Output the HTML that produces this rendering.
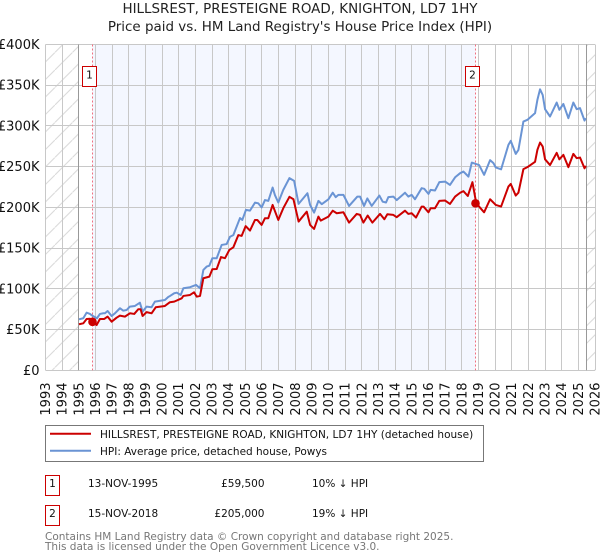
<!DOCTYPE html>
<html lang="en">
<head>
<meta charset="utf-8">
<title>HILLSREST, PRESTEIGNE ROAD, KNIGHTON, LD7 1HY</title>
<style>
html,body{margin:0;padding:0;background:#fff;}
svg{display:block;font-family:"DejaVu Sans",sans-serif;}
</style>
</head>
<body>
<svg id="chart" xmlns="http://www.w3.org/2000/svg" width="600" height="560" viewBox="0 0 600 560">
  <defs>
    <pattern id="hatch" patternUnits="userSpaceOnUse" width="17.5" height="17.5" patternTransform="translate(2.4,0)">
      <path d="M-1 18.5 L18.5 -1" stroke="#d8d8d8" stroke-width="1" fill="none"/>
    </pattern>
  </defs>
  <text x="300" y="13" font-size="13.45" text-anchor="middle" fill="#222">HILLSREST, PRESTEIGNE ROAD, KNIGHTON, LD7 1HY</text>
  <text x="300" y="31" font-size="13.45" text-anchor="middle" fill="#222">Price paid vs. HM Land Registry's House Price Index (HPI)</text>
  <g id="plot"></g>

  <g>
    <rect x="45.5" y="425.5" width="438" height="36" fill="#fff" stroke="#777" stroke-width="1"/>
    <line x1="50" x2="91" y1="433.7" y2="433.7" stroke="#cc0000" stroke-width="2"/>
    <text x="100" y="438" font-size="10.5" fill="#111">HILLSREST, PRESTEIGNE ROAD, KNIGHTON, LD7 1HY (detached house)</text>
    <line x1="50" x2="91" y1="450.7" y2="450.7" stroke="#6a94d4" stroke-width="2"/>
    <text x="100" y="455" font-size="10.5" fill="#111">HPI: Average price, detached house, Powys</text>
  </g>

  <g font-size="10.5" fill="#111">
    <rect x="45.5" y="475.5" width="14" height="20" fill="#fff" stroke="#cc0000" stroke-width="1"/>
    <text x="52.5" y="487" text-anchor="middle">1</text>
    <text x="88" y="487">13-NOV-1995</text>
    <text x="264.5" y="487" text-anchor="end">£59,500</text>
    <text x="312" y="487">10% ↓ HPI</text>
    <rect x="45.5" y="505.5" width="14" height="20" fill="#fff" stroke="#cc0000" stroke-width="1"/>
    <text x="52.5" y="517" text-anchor="middle">2</text>
    <text x="88" y="517">15-NOV-2018</text>
    <text x="264.5" y="517" text-anchor="end">£205,000</text>
    <text x="312" y="517">19% ↓ HPI</text>
  </g>

  <text x="45" y="540" font-size="10.5" fill="#777">Contains HM Land Registry data © Crown copyright and database right 2025.</text>
  <text x="45" y="550" font-size="10.5" fill="#777">This data is licensed under the Open Government Licence v3.0.</text>
</svg>

<script>
const yearTicks = [1993,1994,1995,1996,1997,1998,1999,2000,2001,2002,2003,2004,2005,2006,2007,2008,2009,2010,2011,2012,2013,2014,2015,2016,2017,2018,2019,2020,2021,2022,2023,2024,2025,2026];
const valueTicks = [0,50,100,150,200,250,300,350,400];
const valueTickLabels = ['£0','£50K','£100K','£150K','£200K','£250K','£300K','£350K','£400K'];
const dataStart = [1995.0];
const dataEnd = [2025.5];
const saleYears = [1995.87,2018.87];
const salePrices = [59.5,205];
const saleLabels = ['1','2'];

const hpiYears = [1995.01,1995.27,1995.47,1995.67,1995.81,1996.09,1996.27,1996.47,1996.57,1996.73,1996.97,1997.17,1997.47,1997.67,1997.87,1998.07,1998.37,1998.67,1998.83,1999.07,1999.37,1999.57,2000.17,2000.37,2000.48,2000.73,2000.88,2001.12,2001.28,2001.68,2002.04,2002.28,2002.48,2002.68,2002.84,2003.02,2003.28,2003.58,2003.88,2004.08,2004.28,2004.68,2004.82,2005.04,2005.28,2005.58,2005.78,2005.98,2006.18,2006.38,2006.64,2006.78,2006.98,2007.28,2007.65,2007.93,2008.2,2008.73,2008.89,2009.13,2009.39,2009.59,2009.99,2010.25,2010.43,2010.59,2010.89,2011.23,2011.73,2011.89,2012.13,2012.33,2012.59,2013.05,2013.25,2013.45,2013.59,2013.89,2014.09,2014.59,2014.79,2014.99,2015.19,2015.59,2015.75,2016.0,2016.13,2016.39,2016.65,2017.0,2017.29,2017.6,2017.9,2018.1,2018.4,2018.6,2018.84,2019.04,2019.34,2019.7,2019.9,2020.04,2020.36,2020.8,2020.94,2021.24,2021.4,2021.7,2021.94,2022.4,2022.54,2022.7,2022.86,2023.0,2023.3,2023.7,2023.86,2024.1,2024.4,2024.7,2024.9,2025.1,2025.37,2025.45];
const hpiValues = [62.6,63.9,70.8,69.2,67.1,63.9,69.2,70,70,72.8,66.7,70,76.2,73.2,74,78.2,79,83,72,78.2,77.4,84.3,86.3,90,91.3,94.6,95.3,92.5,100.7,102,104.8,100.7,123.2,127.3,128.5,137.6,137.6,153.9,155,164,166,186.9,184.6,197,196,205.9,205,200,209,208,224.4,215,206,221.5,236,232.6,204.3,217.4,203,193.6,208,204,210,218,212.6,215.4,215.4,201.8,213.3,213.3,201.8,211,201.8,214.5,207,206,212.6,213.3,209,218,213.3,215.4,210,223.6,222.8,216.6,221.5,220.7,231,231.7,227.6,237,242,244,237.8,255,253.4,252,240,258,254.4,249,246.7,276.8,281.7,265.7,270.6,305.4,307.5,315.7,332,345,338,320.6,311.6,328.7,319.8,327,309.5,328.7,320.6,321.9,306.6,309.5];

const paidYears = [1995.01,1995.27,1995.47,1995.67,1995.87,1996.07,1996.27,1996.53,1996.73,1996.97,1997.27,1997.47,1997.77,1998.07,1998.33,1998.57,1998.71,1998.83,1999.07,1999.37,1999.62,2000.17,2000.47,2000.73,2001.18,2001.28,2001.68,2001.92,2002.08,2002.28,2002.48,2002.84,2003.02,2003.28,2003.54,2003.78,2004.04,2004.28,2004.58,2004.78,2005.02,2005.28,2005.58,2005.72,2005.98,2006.18,2006.38,2006.64,2006.98,2007.28,2007.65,2007.89,2008.2,2008.69,2008.89,2009.13,2009.39,2009.53,2009.99,2010.25,2010.49,2010.89,2011.23,2011.69,2011.89,2012.09,2012.35,2012.63,2013.09,2013.35,2013.53,2013.89,2014.09,2014.59,2014.79,2014.99,2015.25,2015.59,2015.7,2016.0,2016.13,2016.39,2016.65,2017.0,2017.29,2017.6,2017.9,2018.1,2018.36,2018.64,2018.87,2019.34,2019.7,2020.04,2020.36,2020.8,2020.94,2021.24,2021.4,2021.7,2021.94,2022.4,2022.54,2022.7,2022.86,2023.0,2023.3,2023.7,2023.86,2024.1,2024.4,2024.7,2024.9,2025.1,2025.37,2025.45];
const paidValues = [56.5,57.7,63,63.3,59.5,55.6,63,63,65.9,59.7,64.6,67.1,65.9,70,69.2,75,75,66.7,71.4,70,77.4,79,83.6,84.3,88.4,91.3,92.5,95.8,90.5,91.3,113,115,124,124.4,139,137.6,147.8,151,166,165,177,171.5,184.6,184.6,178.5,186.7,186.7,203,184.6,199,213,210,182.6,194.8,178.5,173.6,188.7,183.8,188.7,196,192.8,194,181.3,192,190.8,181.3,190,181.3,192,185.5,191.6,190.8,188,196,192,192.8,187.5,201,201,194,199,199,208,208.4,204.3,213.3,218,220,214,231,205,194,210,203,201,225.6,228.8,214.5,218,247,249.4,256,270.6,279.6,274.7,259,252,267,259,264.5,249.4,265.7,260.4,261.2,248,251];

const SVG_NS = 'http://www.w3.org/2000/svg';
const plot = document.getElementById('plot');
const left = 45.5, right = 595, top_ = 44.5, bottom = 370.3;

function xScale(year) {
  return left + (year - yearTicks[0]) * (right - left) / (yearTicks[yearTicks.length - 1] - yearTicks[0]);
}
function yScale(value) {
  return bottom - value * (bottom - top_) / valueTicks[valueTicks.length - 1];
}
function snapDown(x) {
  return Math.floor(x) - 0.5;
}
function make(tag, attrs, parent) {
  const el = document.createElementNS(SVG_NS, tag);
  for (const k in attrs) el.setAttribute(k, attrs[k]);
  (parent || plot).appendChild(el);
  return el;
}

// Backgrounds
const preHatch = make('rect', {x: left, y: top_, width: xScale(dataStart[0]) - left, height: bottom - top_, fill: 'url(#hatch)'});


const postHatch = make('rect', {x: xScale(dataEnd[0]), y: top_, width: right - xScale(dataEnd[0]), height: bottom - top_, fill: 'url(#hatch)'});


const ownership = make('rect', {x: snapDown(xScale(saleYears[0])), y: top_, width: snapDown(xScale(saleYears[1])) - snapDown(xScale(saleYears[0])), height: bottom - top_, fill: '#f4f7ff'});



// Grid
yearTicks.forEach(function (yr) {
  const x = Math.round(xScale(yr) - 0.5) + 0.5;
  const gl = make('line', {x1: x, x2: x, y1: top_, y2: bottom, stroke: '#c8c8c8', 'stroke-width': 1});
  
  
  const t = make('text', {transform: 'translate(' + (xScale(yr) + 4.5) + ',382.5) rotate(-90)', 'text-anchor': 'end', 'font-size': 13, fill: '#111'});
  t.textContent = String(yr);
  
  
});
valueTicks.forEach(function (v, i) {
  const y = Math.round(yScale(v) - 0.5) + 0.5;
  const gl = make('line', {x1: left, x2: right, y1: y, y2: y, stroke: '#c8c8c8', 'stroke-width': 1});
  
  
  const t = make('text', {x: 39.5, y: yScale(v) + 4.5, 'text-anchor': 'end', 'font-size': 13, fill: '#111'});
  t.textContent = valueTickLabels[i];
  
  
});

// Data range bounds
[dataStart[0], dataEnd[0]].forEach(function (yr) {
  const bx = Math.round(xScale(yr) - 0.5) + 0.5;
  const b = make('line', {x1: bx, x2: bx, y1: top_, y2: bottom, stroke: '#999', 'stroke-width': 1});
  
  
});

// Sale date lines
saleYears.forEach(function (yr) {
  const sx = snapDown(xScale(yr));
  const d = make('line', {x1: sx, x2: sx, y1: top_, y2: bottom, stroke: '#f07080', 'stroke-width': 1, 'stroke-dasharray': '2 2'});
  
  
});

// Series
function pathFrom(xs, ys) {
  return xs.map(function (x, i) { return xScale(x).toFixed(2) + ',' + yScale(ys[i]).toFixed(2); }).join(' ');
}
const hpiLine = make('polyline', {points: pathFrom(hpiYears, hpiValues), fill: 'none', stroke: '#6a94d4', 'stroke-width': 2, 'stroke-linejoin': 'round'});


const paidLine = make('polyline', {points: pathFrom(paidYears, paidValues), fill: 'none', stroke: '#cc0000', 'stroke-width': 2, 'stroke-linejoin': 'round'});



// Sale markers and badges
saleYears.forEach(function (yr, i) {
  const m = make('circle', {cx: snapDown(xScale(yr)), cy: yScale(salePrices[i]), r: 4.3, fill: '#cc0000'});
  
  
  const bx = make('rect', {x: Math.round(xScale(yr)) - 10.5, y: 66.5, width: 14, height: 20, fill: '#fff', stroke: '#cc0000', 'stroke-width': 1});
  
  
  const t = make('text', {x: Math.round(xScale(yr)) - 3.5, y: 78.5, 'text-anchor': 'middle', 'font-size': 10.5, fill: '#111'});
  t.textContent = saleLabels[i];
  
  
});
</script>
</body>
</html>
